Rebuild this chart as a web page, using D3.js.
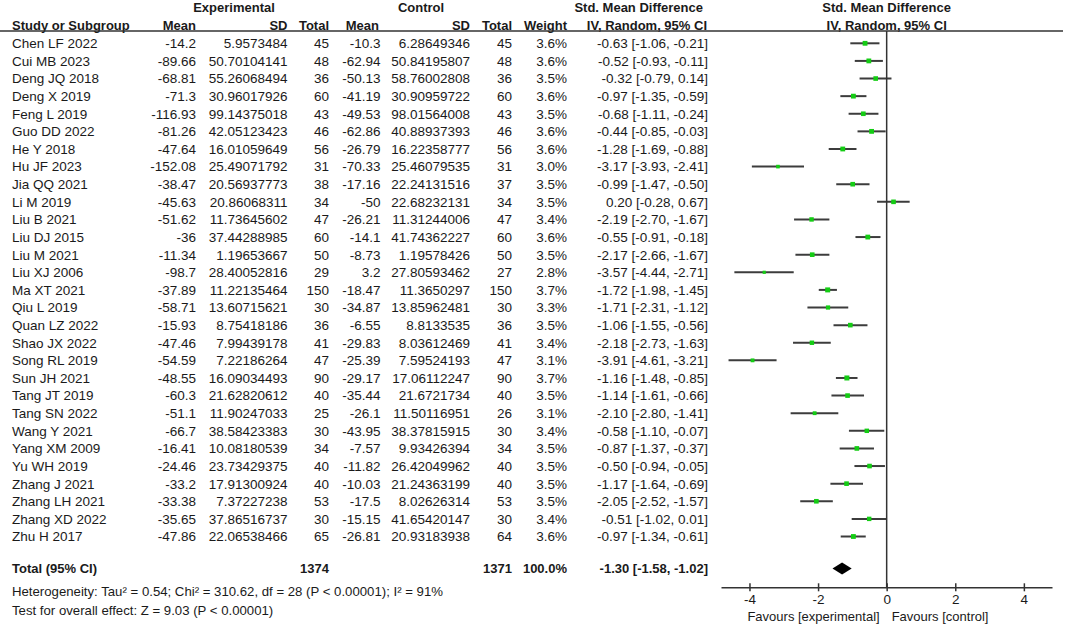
<!DOCTYPE html>
<html lang="en">

<head>
  <meta charset="utf-8">
  <title>Forest plot</title>
  <script src="https://d3js.org/d3.v7.min.js"></script>
  <style>
    body { margin: 0; background: #fff; }
    text { font-family: "Liberation Sans", Arial, sans-serif; fill: #1a1a1a; }
    .b { font-weight: bold; }
  </style>
</head>

<body>
  <script>
    // study rows
    var studies = ['Chen LF 2022', 'Cui MB 2023', 'Deng JQ 2018', 'Deng X 2019', 'Feng L 2019', 'Guo DD 2022',
      'He Y 2018', 'Hu JF 2023', 'Jia QQ 2021', 'Li M 2019', 'Liu B 2021', 'Liu DJ 2015', 'Liu M 2021',
      'Liu XJ 2006', 'Ma XT 2021', 'Qiu L 2019', 'Quan LZ 2022', 'Shao JX 2022', 'Song RL 2019', 'Sun JH 2021',
      'Tang JT 2019', 'Tang SN 2022', 'Wang Y 2021', 'Yang XM 2009', 'Yu WH 2019', 'Zhang J 2021',
      'Zhang LH 2021', 'Zhang XD 2022', 'Zhu H 2017'];
    var expMean = [-14.2, -89.66, -68.81, -71.3, -116.93, -81.26, -47.64, -152.08, -38.47, -45.63, -51.62, -36,
      -11.34, -98.7, -37.89, -58.71, -15.93, -47.46, -54.59, -48.55, -60.3, -51.1, -66.7, -16.41, -24.46, -33.2,
      -33.38, -35.65, -47.86];
    var expSD = [5.9573484, 50.70104141, 55.26068494, 30.96017926, 99.14375018, 42.05123423, 16.01059649,
      25.49071792, 20.56937773, 20.86068311, 11.73645602, 37.44288985, 1.19653667, 28.40052816, 11.22135464,
      13.60715621, 8.75418186, 7.99439178, 7.22186264, 16.09034493, 21.62820612, 11.90247033, 38.58423383,
      10.08180539, 23.73429375, 17.91300924, 7.37227238, 37.86516737, 22.06538466];
    var expN = [45, 48, 36, 60, 43, 46, 56, 31, 38, 34, 47, 60, 50, 29, 150, 30, 36, 41, 47, 90, 40, 25, 30, 34,
      40, 40, 53, 30, 65];
    var ctlMean = [-10.3, -62.94, -50.13, -41.19, -49.53, -62.86, -26.79, -70.33, -17.16, -50, -26.21, -14.1,
      -8.73, 3.2, -18.47, -34.87, -6.55, -29.83, -25.39, -29.17, -35.44, -26.1, -43.95, -7.57, -11.82, -10.03,
      -17.5, -15.15, -26.81];
    var ctlSD = [6.28649346, 50.84195807, 58.76002808, 30.90959722, 98.01564008, 40.88937393, 16.22358777,
      25.46079535, 22.24131516, 22.68232131, 11.31244006, 41.74362227, 1.19578426, 27.80593462, 11.3650297,
      13.85962481, 8.8133535, 8.03612469, 7.59524193, 17.06112247, 21.6721734, 11.50116951, 38.37815915,
      9.93426394, 26.42049962, 21.24363199, 8.02626314, 41.65420147, 20.93183938];
    var ctlN = [45, 48, 36, 60, 43, 46, 56, 31, 37, 34, 47, 60, 50, 27, 150, 30, 36, 41, 47, 90, 40, 26, 30, 34,
      40, 40, 53, 30, 64];
    var weight = [3.6, 3.6, 3.5, 3.6, 3.5, 3.6, 3.6, 3.0, 3.5, 3.5, 3.4, 3.6, 3.5, 2.8, 3.7, 3.3, 3.5, 3.4, 3.1,
      3.7, 3.5, 3.1, 3.4, 3.5, 3.5, 3.5, 3.5, 3.4, 3.6];
    var smd = [-0.63, -0.52, -0.32, -0.97, -0.68, -0.44, -1.28, -3.17, -0.99, 0.20, -2.19, -0.55, -2.17, -3.57,
      -1.72, -1.71, -1.06, -2.18, -3.91, -1.16, -1.14, -2.10, -0.58, -0.87, -0.50, -1.17, -2.05, -0.51, -0.97];
    var ciLow = [-1.06, -0.93, -0.79, -1.35, -1.11, -0.85, -1.69, -3.93, -1.47, -0.28, -2.70, -0.91, -2.66, -4.44,
      -1.98, -2.31, -1.55, -2.73, -4.61, -1.48, -1.61, -2.80, -1.10, -1.37, -0.94, -1.64, -2.52, -1.02, -1.34];
    var ciHigh = [-0.21, -0.11, 0.14, -0.59, -0.24, -0.03, -0.88, -2.41, -0.50, 0.67, -1.67, -0.18, -1.67, -2.71,
      -1.45, -1.12, -0.56, -1.63, -3.21, -0.85, -0.66, -1.41, -0.07, -0.37, -0.05, -0.69, -1.57, 0.01, -0.61];

    // pooled result
    var total = { expN: 1374, ctlN: 1371, weight: 100.0, smd: -1.30, low: -1.58, high: -1.02 };
    var tickValues = [-4, -2, 0, 2, 4];
    var footLines = ['Heterogeneity: Tau\u00b2 = 0.54; Chi\u00b2 = 310.62, df = 28 (P < 0.00001); I\u00b2 = 91%',
      'Test for overall effect: Z = 9.03 (P < 0.00001)'];

    var w = 1065, h = 625;
    var fs = 13.5;

    var svg = d3.select('body').append('svg')
      .attr('width', w)
      .attr('height', h);

    var rows = studies.map(function (s, i) {
      return {
        name: s, em: expMean[i], esd: expSD[i], en: expN[i], cm: ctlMean[i], csd: ctlSD[i], cn: ctlN[i],
        w: weight[i], smd: smd[i], lo: ciLow[i], hi: ciHigh[i]
      };
    });

    var y = d3.scaleLinear().domain([0, studies.length - 1]).range([43.3, 536.5]);
    var x = d3.scaleLinear().domain([-4.83, 4.82]).range([721, 1052]);
    var size = d3.scaleSqrt().domain([2.8, 3.7]).range([3.2, 5]);

    // plain hyphen minus like the original (d3.format would give a unicode minus)
    function f2(v) { return v.toFixed(2); }
    function ciText(m, l, u) {
      return f2(m) + ' [' + f2(l) + ', ' + f2(u) + ']';
    }

    // table columns: accessor, x position, anchor
    var cols = [
      { v: function (d) { return d.name; }, x: 12, a: 'start' },
      { v: function (d) { return d.em; }, x: 196, a: 'end' },
      { v: function (d) { return d.esd; }, x: 287.5, a: 'end' },
      { v: function (d) { return d.en; }, x: 329, a: 'end' },
      { v: function (d) { return d.cm; }, x: 380.5, a: 'end' },
      { v: function (d) { return d.csd; }, x: 470, a: 'end' },
      { v: function (d) { return d.cn; }, x: 512, a: 'end' },
      { v: function (d) { return d.w.toFixed(1) + '%'; }, x: 567, a: 'end' },
      { v: function (d) { return ciText(d.smd, d.lo, d.hi); }, x: 708, a: 'end' }
    ];

    var rowG = svg.selectAll('.row')
      .data(rows)
      .enter().append('g')
      .attr('class', 'row')
      .attr('transform', function (d, i) { return 'translate(0,' + y(i) + ')'; });

    cols.forEach(function (c) {
      rowG.append('text')
        .attr('x', c.x)
        .attr('dy', '0.36em')
        .attr('text-anchor', c.a)
        .style('font-size', fs + 'px')
        .text(c.v);
    });

    // headers
    var head1 = 7.5, head2 = 25;
    var headers = [
      { t: 'Experimental', x: 234, y: head1, a: 'middle' },
      { t: 'Control', x: 421, y: head1, a: 'middle' },
      { t: 'Std. Mean Difference', x: 703, y: head1, a: 'end' },
      { t: 'Std. Mean Difference', x: x(0), y: head1, a: 'middle' },
      { t: 'Study or Subgroup', x: 12, y: head2, a: 'start' },
      { t: 'Mean', x: 196, y: head2, a: 'end' },
      { t: 'SD', x: 287.5, y: head2, a: 'end' },
      { t: 'Total', x: 329, y: head2, a: 'end' },
      { t: 'Mean', x: 379, y: head2, a: 'end' },
      { t: 'SD', x: 470, y: head2, a: 'end' },
      { t: 'Total', x: 512, y: head2, a: 'end' },
      { t: 'Weight', x: 567, y: head2, a: 'end' },
      { t: 'IV, Random, 95% CI', x: 707, y: head2, a: 'end' },
      { t: 'IV, Random, 95% CI', x: x(0), y: head2, a: 'middle' }
    ];
    svg.selectAll('.hdr')
      .data(headers)
      .enter().append('text')
      .attr('class', 'hdr b')
      .attr('x', function (d) { return d.x; })
      .attr('y', function (d) { return d.y; })
      .attr('dy', '0.36em')
      .attr('text-anchor', function (d) { return d.a; })
      .style('font-size', '13px')
      .text(function (d) { return d.t; });

    svg.append('line')
      .attr('x1', 0).attr('x2', 1063)
      .attr('y1', 31).attr('y2', 31)
      .attr('stroke', '#333').attr('stroke-width', 1.5);

    // zero line
    var axisY = 587.3;
    svg.append('line')
      .attr('x1', x(0)).attr('x2', x(0))
      .attr('y1', 31).attr('y2', axisY)
      .attr('stroke', '#333').attr('stroke-width', 1.5);

    // CI lines and points
    rowG.append('line')
      .attr('x1', function (d) { return x(d.lo); })
      .attr('x2', function (d) { return x(d.hi); })
      .attr('stroke', '#3c3c3c')
      .attr('stroke-width', 2);
    rowG.append('rect')
      .attr('x', function (d) { return x(d.smd) - size(d.w) / 2; })
      .attr('y', function (d) { return -size(d.w) / 2; })
      .attr('width', function (d) { return size(d.w); })
      .attr('height', function (d) { return size(d.w); })
      .attr('fill', '#14cc14');

    // total row
    var totalY = 568.5;
    var totG = svg.append('g').attr('transform', 'translate(0,' + totalY + ')');
    [
      { t: 'Total (95% CI)', x: 12, a: 'start' },
      { t: total.expN, x: 329, a: 'end' },
      { t: total.ctlN, x: 512, a: 'end' },
      { t: total.weight.toFixed(1) + '%', x: 567, a: 'end' },
      { t: ciText(total.smd, total.low, total.high), x: 708, a: 'end' }
    ].forEach(function (c) {
      totG.append('text')
        .attr('class', 'b')
        .attr('x', c.x)
        .attr('dy', '0.36em')
        .attr('text-anchor', c.a)
        .style('font-size', '13px')
        .text(c.t);
    });
    totG.append('path')
      .attr('d', 'M' + x(total.low) + ',0L' + x(total.smd) + ',-6L' + x(total.high) + ',0L' + x(total.smd) + ',6Z')
      .attr('fill', '#000');

    svg.selectAll('.foot')
      .data(footLines)
      .enter().append('text')
      .attr('class', 'foot')
      .attr('x', 12)
      .attr('y', function (d, i) { return 591 + i * 19; })
      .attr('dy', '0.36em')
      .style('font-size', '13.2px')
      .text(function (d) { return d; });

    // axis
    var axis = svg.append('g')
      .attr('transform', 'translate(0,' + axisY + ')')
      .call(d3.axisBottom(x).tickValues(tickValues).tickSize(4).tickSizeOuter(0)
        .tickFormat(function (d) { return String(d); }));
    axis.select('.domain').attr('stroke', '#333').attr('stroke-width', 1.5);
    axis.selectAll('.tick line').attr('y1', -4).attr('stroke', '#333').attr('stroke-width', 1.5);
    axis.selectAll('.tick text')
      .attr('y', 7)
      .style('font-size', fs + 'px')
      .style('font-family', '"Liberation Sans", Arial, sans-serif')
      .attr('fill', '#1a1a1a');

    svg.append('text')
      .attr('x', x(0) - 7).attr('y', 616).attr('dy', '0.36em')
      .attr('text-anchor', 'end')
      .style('font-size', '13px')
      .text('Favours [experimental]');
    svg.append('text')
      .attr('x', x(0) + 5).attr('y', 616).attr('dy', '0.36em')
      .style('font-size', '13px')
      .text('Favours [control]');
  </script>
</body>

</html>
